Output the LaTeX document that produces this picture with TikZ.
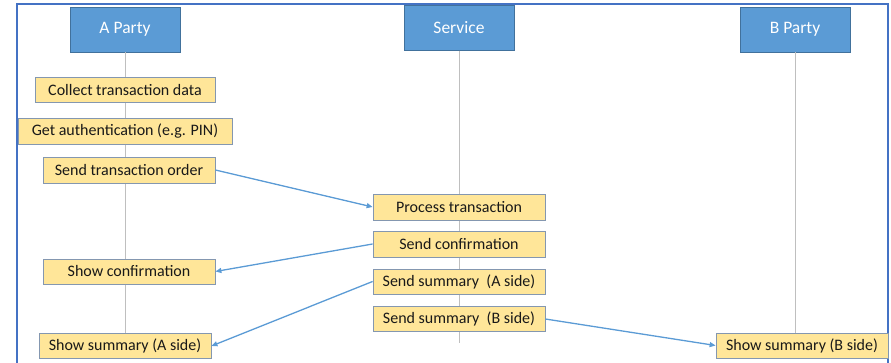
\documentclass[tikz,border=0pt]{standalone}
\usepackage{fontspec}
\setmainfont{Carlito}
\usepackage{xcolor}
\usepackage{tikz}
\usetikzlibrary{positioning}
\usetikzlibrary{arrows.meta}

\definecolor{partyblue}{HTML}{5B9BD5}
\definecolor{partyedge}{HTML}{41719C}
\definecolor{stepfill}{HTML}{FFE699}
\definecolor{stepedge}{HTML}{8497B0}
\definecolor{frameblue}{HTML}{4472C4}

\begin{document}
\begin{tikzpicture}
                [x=1pt, y=-1pt,
                party/.style = {minimum width = 110pt, minimum height = 45pt, inner sep = 0pt, draw = partyedge, fill = partyblue, text = white, font = \fontsize{17.5}{20}\selectfont},
                stepbox/.style = {minimum width = 172pt, minimum height = 25pt, inner sep = 0pt, draw = stepedge, line width = 0.8pt, fill = stepfill, text = black!90, font = \fontsize{16}{18}\selectfont},
                life/.style = {draw = black!25, line width = 1pt},
                msg/.style = {draw = partyblue, line width = 1.3pt, -{Triangle[length=6pt, width=5pt]}}]
                \useasboundingbox (0,0) rectangle (891,363);
                % Frame
                \draw[frameblue, line width = 1.2pt] (17,363) -- (17,4) -- (888,4) -- (888,363);
                % Parties
                \node[party] (aparty) at (125,29.5) {A Party};
                \node[party] (service) at (459,28) {Service};
                \node[party] (bparty) at (795,29.5) {B Party};
                % Lifelines
                \coordinate (send) at (459,343);
                \path[life] (aparty) -- (125,334);
                \path[life] (service) -- (send);
                \path[life] (bparty) -- (795,333);
                % A side steps
                \node[stepbox, minimum width = 180pt] (collect) at (125,90) {Collect transaction data};
                \node[stepbox, minimum width = 214pt, minimum height = 26pt] (auth) at (125,131) {Get authentication (e.g. PIN)};
                \node[stepbox, minimum height = 26pt] (order) at (129,170) {Send transaction order};
                \node[stepbox] (showconf) at (129,271.5) {Show confirmation};
                \node[stepbox] (showsuma) at (125,346) {Show summary (A side)};
                % Service steps
                \node[stepbox, minimum height = 26pt] (process) at (459,207) {Process transaction};
                \node[stepbox, minimum height = 26pt] (sendconf) at (459,244) {Send confirmation};
                \node[stepbox] (sendsuma) at (459,281.5) {Send summary\ \ (A side)};
                \node[stepbox] (sendsumb) at (459,319) {Send summary\ \ (B side)};
                % B side steps
                \node[stepbox] (showsumb) at (802,345.5) {Show summary (B side)};
                % Messages
                \draw[msg] (order.east) -- (process.west);
                \draw[msg] (sendconf.west) -- (showconf.east);
                \draw[msg] (sendsuma.west) -- (showsuma.east);
                \draw[msg] (sendsumb.east) -- (showsumb.west);
            \end{tikzpicture}
\end{document}
